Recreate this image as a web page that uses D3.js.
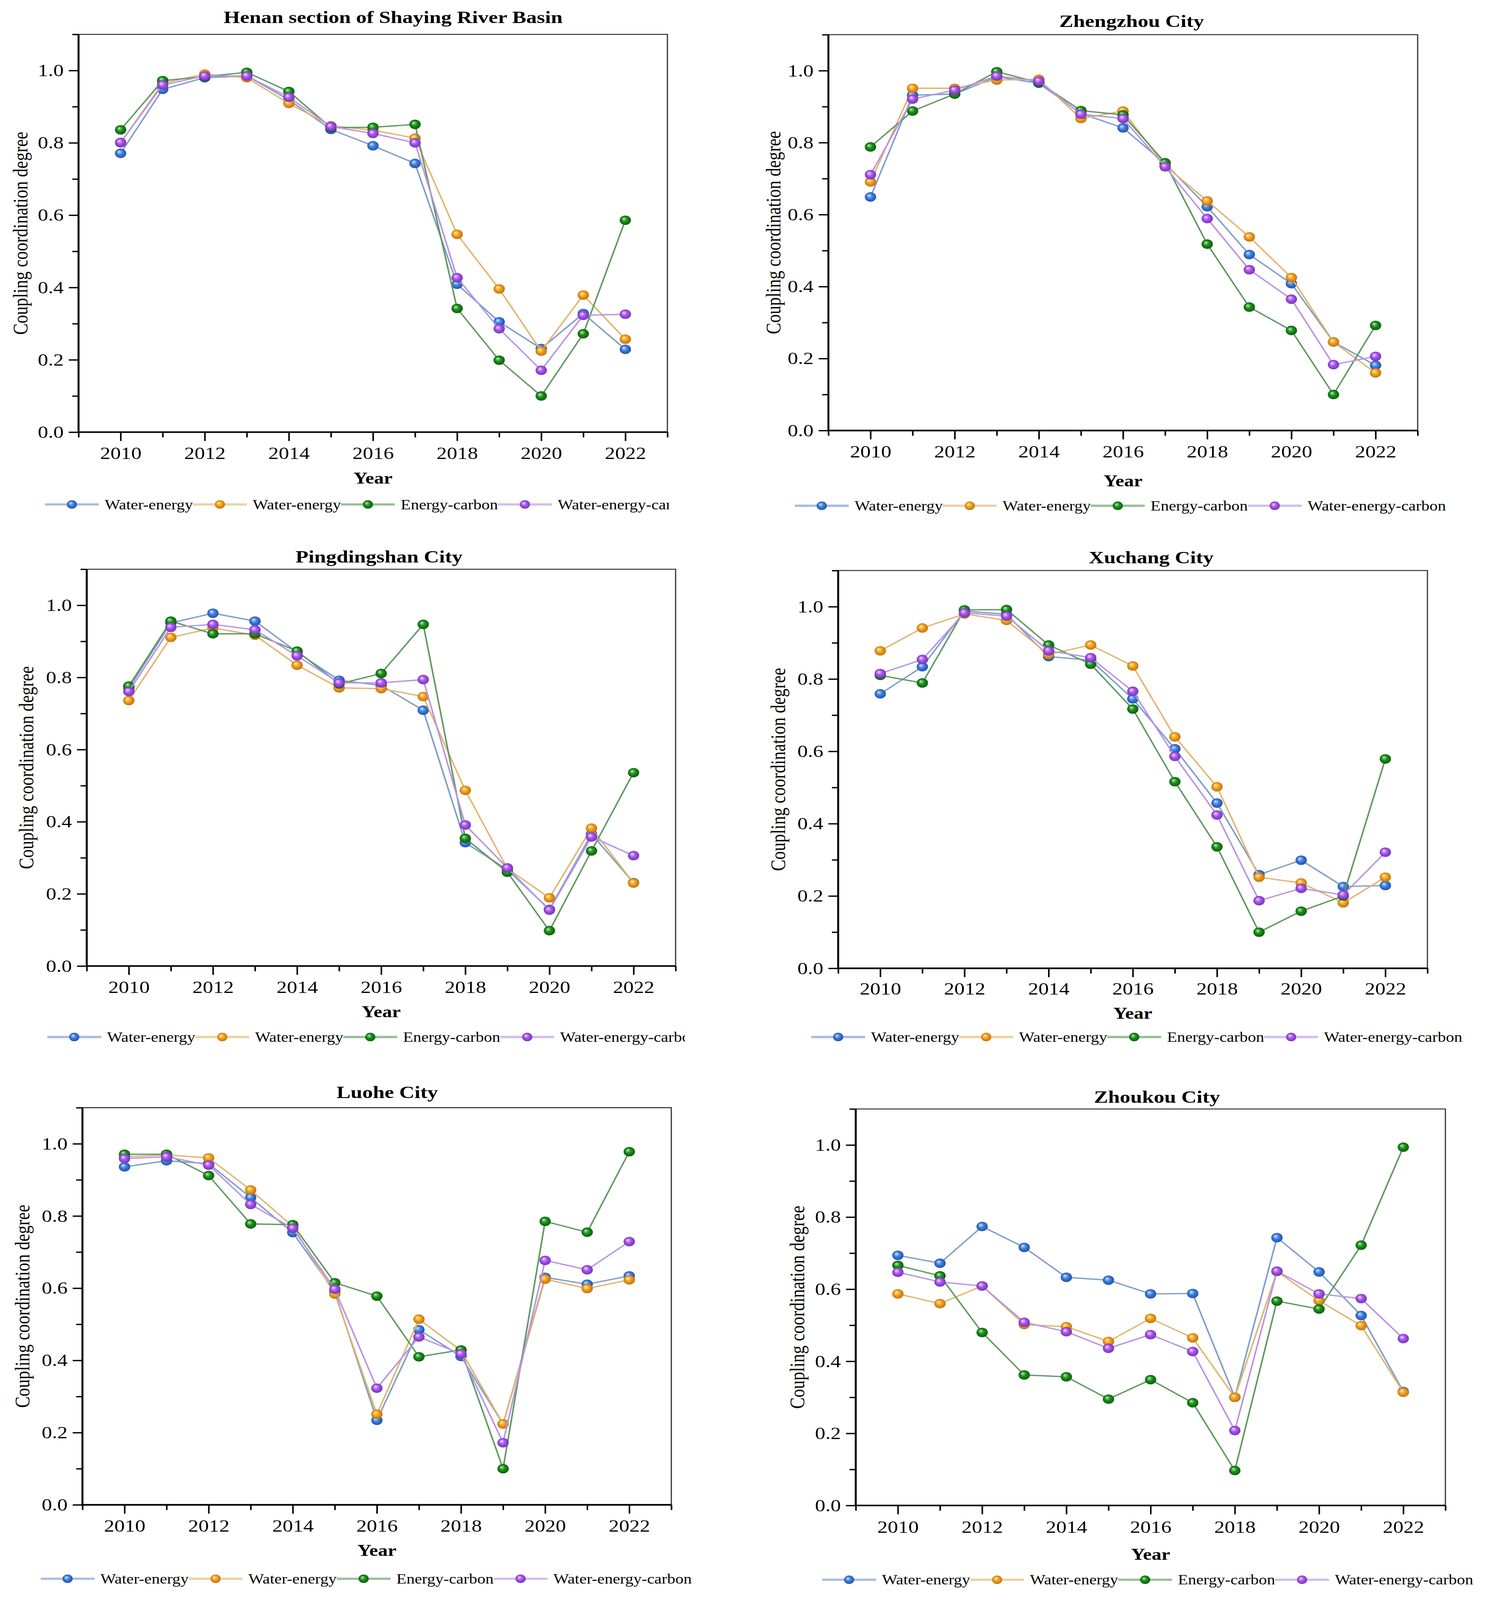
<!DOCTYPE html>
<html><head><meta charset="utf-8">
<script src="https://cdn.jsdelivr.net/npm/d3@7/dist/d3.min.js"></script>
<style>
html,body{margin:0;padding:0;background:#fff;overflow:hidden}
svg{display:block;background:#fff}
text{font-family:"Liberation Serif","Times New Roman",serif;fill:#000}
</style>
</head><body>
<svg id="chart"></svg>
<script>
// ---------------- DATA ----------------
const years = [2010,2011,2012,2013,2014,2015,2016,2017,2018,2019,2020,2021,2022];
const xTicks = [2010,2012,2014,2016,2018,2020,2022];
const xMinorTicks = [2009,2011,2013,2015,2017,2019,2021,2023];
const yTicks = [0,0.2,0.4,0.6,0.8,1.0];
const yMinorTicks = [0.1,0.3,0.5,0.7,0.9,1.1];
const seriesNames = ["Water-energy","Water-energy","Energy-carbon","Water-energy-carbon"];
const panelTitles = ["Henan section of Shaying River Basin","Zhengzhou City","Pingdingshan City","Xuchang City","Luohe City","Zhoukou City"];

const henanWE   = [0.771,0.948,0.980,0.985,0.919,0.837,0.792,0.743,0.409,0.305,0.231,0.328,0.229];
const henanWE2  = [0.800,0.965,0.990,0.980,0.909,0.847,0.835,0.813,0.547,0.396,0.224,0.379,0.257];
const henanEC   = [0.836,0.972,0.983,0.995,0.942,0.842,0.843,0.851,0.342,0.199,0.100,0.272,0.586];
const henanWEC  = [0.801,0.960,0.985,0.985,0.926,0.845,0.826,0.800,0.427,0.286,0.171,0.323,0.326];

const zhengzhouWE  = [0.649,0.932,0.935,0.983,0.965,0.881,0.841,0.742,0.622,0.489,0.408,0.246,0.181];
const zhengzhouWE2 = [0.691,0.951,0.951,0.974,0.976,0.867,0.888,0.736,0.638,0.538,0.425,0.246,0.160];
const zhengzhouEC  = [0.788,0.888,0.935,0.997,0.967,0.889,0.877,0.744,0.518,0.343,0.278,0.100,0.292];
const zhengzhouWEC = [0.711,0.921,0.946,0.985,0.971,0.879,0.867,0.733,0.589,0.447,0.365,0.183,0.206];

const pingdingshanWE  = [0.770,0.951,0.978,0.956,0.870,0.792,0.778,0.709,0.342,0.267,0.157,0.366,0.231];
const pingdingshanWE2 = [0.736,0.911,0.937,0.917,0.834,0.771,0.769,0.747,0.487,0.270,0.189,0.382,0.230];
const pingdingshanEC  = [0.776,0.956,0.921,0.921,0.873,0.782,0.811,0.947,0.354,0.260,0.098,0.319,0.536];
const pingdingshanWEC = [0.761,0.939,0.947,0.932,0.860,0.785,0.785,0.794,0.391,0.272,0.155,0.358,0.306];

const xuchangWE  = [0.759,0.834,0.988,0.979,0.862,0.852,0.745,0.607,0.457,0.259,0.299,0.226,0.229];
const xuchangWE2 = [0.878,0.941,0.980,0.962,0.868,0.894,0.836,0.640,0.502,0.252,0.236,0.181,0.252];
const xuchangEC  = [0.810,0.789,0.991,0.992,0.894,0.841,0.717,0.516,0.336,0.100,0.158,0.200,0.579];
const xuchangWEC = [0.815,0.854,0.983,0.974,0.878,0.859,0.766,0.586,0.424,0.187,0.221,0.203,0.321];

const luoheWE  = [0.936,0.953,0.945,0.851,0.754,0.590,0.234,0.485,0.411,0.224,0.630,0.611,0.634];
const luoheWE2 = [0.964,0.969,0.961,0.872,0.771,0.584,0.251,0.514,0.427,0.224,0.625,0.599,0.623];
const luoheEC  = [0.971,0.971,0.912,0.778,0.776,0.615,0.578,0.410,0.429,0.100,0.785,0.755,0.978];
const luoheWEC = [0.959,0.964,0.941,0.832,0.766,0.597,0.323,0.465,0.418,0.172,0.677,0.651,0.729];

const zhoukouWE  = [0.694,0.672,0.774,0.716,0.633,0.625,0.587,0.588,0.300,0.743,0.648,0.527,0.316];
const zhoukouWE2 = [0.587,0.560,0.609,0.502,0.496,0.455,0.519,0.465,0.300,0.649,0.568,0.499,0.314];
const zhoukouEC  = [0.666,0.637,0.480,0.362,0.357,0.295,0.349,0.285,0.097,0.567,0.545,0.722,0.994];
const zhoukouWEC = [0.647,0.620,0.609,0.508,0.482,0.436,0.474,0.427,0.208,0.650,0.587,0.574,0.463];

const panelSeries = [
  [henanWE, henanWE2, henanEC, henanWEC],
  [zhengzhouWE, zhengzhouWE2, zhengzhouEC, zhengzhouWEC],
  [pingdingshanWE, pingdingshanWE2, pingdingshanEC, pingdingshanWEC],
  [xuchangWE, xuchangWE2, xuchangEC, xuchangWEC],
  [luoheWE, luoheWE2, luoheEC, luoheWEC],
  [zhoukouWE, zhoukouWE2, zhoukouEC, zhoukouWEC]
];

// ---------------- LAYOUT / STYLE ----------------
const W = 3808, H = 4891;
const layout = [
  {x0:201,  x1:1708, yTop:105,  yBot:1321, titleX:1006, titleY:51,   tickY:1385, yearY:1461, legY:1542, ylabX:52,   legX:115,  clip:1712},
  {x0:2120, x1:3628, yTop:106,  yBot:1316, titleX:2896, titleY:63,   tickY:1380, yearY:1469, legY:1546, ylabX:1979, legX:2034, clip:null},
  {x0:222,  x1:1729, yTop:1740, yBot:2953, titleX:970,  titleY:1701, tickY:3017, yearY:3092, legY:3170, ylabX:67,   legX:121,  clip:1753},
  {x0:2145, x1:3653, yTop:1744, yBot:2960, titleX:2946, titleY:1703, tickY:3022, yearY:3097, legY:3170, ylabX:1991, legX:2076, clip:null},
  {x0:211,  x1:1718, yTop:3386, yBot:4600, titleX:991,  titleY:3338, tickY:4663, yearY:4738, legY:4826, ylabX:57,   legX:104,  clip:null},
  {x0:2190, x1:3699, yTop:3390, yBot:4602, titleX:2961, titleY:3352, tickY:4667, yearY:4750, legY:4829, ylabX:2040, legX:2104, clip:null}
];

const markerColors = [
  {hi:"#d6e8ff", base:"#3f80e0", dark:"#1d4c9c"},
  {hi:"#fff0c0", base:"#f5a21e", dark:"#b86c0a"},
  {hi:"#b9f2b0", base:"#1c8f1c", dark:"#0a560a"},
  {hi:"#f6dcff", base:"#a957ea", dark:"#6c2eb2"}
];
const lineColors = ["#7f9dcc","#e2b56e","#5f9a5f","#b894e6"];
const legLineColors = ["#a9bde0","#efd0a0","#98c098","#d2bdf0"];

const FS_TICK = 53, FS_LAB = 52, FS_TITLE = 54, FS_YEAR = 50, FS_LEG = 42;
const MR = 14.5;

// fit the whole figure into the actual viewport
const vw = window.innerWidth || W, vh = window.innerHeight || H;
const svg = d3.select("#chart")
  .attr("width", vw).attr("height", vh)
  .attr("viewBox", `0 0 ${W} ${H}`)
  .attr("preserveAspectRatio", "none");
svg.append("rect").attr("width",W).attr("height",H).attr("fill","#fff");
const defs = svg.append("defs");
markerColors.forEach((c,i)=>{
  const g = defs.append("radialGradient").attr("id","ball"+i)
    .attr("cx","50%").attr("cy","50%").attr("r","55%").attr("fx","35%").attr("fy","32%");
  g.append("stop").attr("offset","0%").attr("stop-color",c.hi);
  g.append("stop").attr("offset","45%").attr("stop-color",c.base);
  g.append("stop").attr("offset","100%").attr("stop-color",c.dark);
});

layout.forEach((L,pi)=>{
  const g = svg.append("g");
  const x = d3.scaleLinear().domain([2009,2023]).range([L.x0,L.x1]);
  const y = d3.scaleLinear().domain([0,1.1]).range([L.yBot,L.yTop]);

  g.append("path")
    .attr("d",`M${L.x0},${L.yTop}H${L.x1}V${L.yBot}`)
    .attr("fill","none").attr("stroke","#333").attr("stroke-width",3);

  const majT = 27, minT = 16;
  const xPad = (L.tickY + 0.35*FS_TICK) - L.yBot - majT - 0.71*FS_TICK;
  const xa = g.append("g").attr("transform",`translate(0,${L.yBot})`)
    .call(d3.axisBottom(x).tickValues(xTicks).tickSize(majT).tickPadding(xPad).tickFormat(d3.format("d")));
  xa.select(".domain").remove();
  xa.selectAll("line").attr("stroke","#000").attr("stroke-width",4);
  xa.selectAll("text").style("font-size",FS_TICK+"px").style("font-family",'"Liberation Serif","Times New Roman",serif');
  const xm = g.append("g").attr("transform",`translate(0,${L.yBot})`)
    .call(d3.axisBottom(x).tickValues(xMinorTicks).tickSize(minT).tickFormat(""));
  xm.select(".domain").remove();
  xm.selectAll("line").attr("stroke","#000").attr("stroke-width",4);

  const ya = g.append("g").attr("transform",`translate(${L.x0},0)`)
    .call(d3.axisLeft(y).tickValues(yTicks).tickSize(25).tickPadding(13).tickFormat(d3.format(".1f")));
  ya.select(".domain").remove();
  ya.selectAll("line").attr("stroke","#000").attr("stroke-width",4);
  ya.selectAll("text").style("font-size",FS_TICK+"px").style("font-family",'"Liberation Serif","Times New Roman",serif');
  const ym = g.append("g").attr("transform",`translate(${L.x0},0)`)
    .call(d3.axisLeft(y).tickValues(yMinorTicks).tickSize(minT).tickFormat(""));
  ym.select(".domain").remove();
  ym.selectAll("line").attr("stroke","#000").attr("stroke-width",4);

  g.append("path").attr("d",`M${L.x0},${L.yTop}V${L.yBot}H${L.x1}`)
    .attr("fill","none").attr("stroke","#000").attr("stroke-width",5);

  g.append("text").attr("x",L.titleX).attr("y",L.titleY).attr("dy","0.35em")
    .attr("text-anchor","middle").style("font-size",FS_TITLE+"px").style("font-weight","bold")
    .text(panelTitles[pi]);
  g.append("text").attr("x",(L.x0+L.x1)/2).attr("y",L.yearY).attr("dy","0.35em")
    .attr("text-anchor","middle").style("font-size",FS_YEAR+"px").style("font-weight","bold")
    .text("Year");
  g.append("text").attr("transform",`translate(${L.ylabX},${(L.yTop+L.yBot)/2}) rotate(-90)`)
    .attr("dy","0.35em").attr("text-anchor","middle").style("font-size",FS_LAB+"px")
    .text("Coupling coordination degree");

  const line = d3.line().x((d,i)=>x(years[i])).y(d=>y(d));
  panelSeries[pi].forEach((vals,si)=>{
    g.append("path").datum(vals).attr("d",line)
      .attr("fill","none").attr("stroke",lineColors[si]).attr("stroke-width",4);
    g.selectAll(null).data(vals).enter().append("circle")
      .attr("cx",(d,i)=>x(years[i])).attr("cy",d=>y(d)).attr("r",MR)
      .attr("fill",`url(#ball${si})`);
  });

  let lg = g.append("g");
  if (L.clip) {
    defs.append("clipPath").attr("id","clip"+pi).append("rect")
      .attr("x",L.legX-50).attr("y",L.legY-60).attr("width",L.clip-(L.legX-50)).attr("height",120);
    lg.attr("clip-path",`url(#clip${pi})`);
  }
  let cx = L.legX;
  const segLen = 138, gap = 15;
  seriesNames.forEach((name,si)=>{
    lg.append("line").attr("x1",cx).attr("x2",cx+segLen).attr("y1",L.legY).attr("y2",L.legY)
      .attr("stroke",legLineColors[si]).attr("stroke-width",7);
    lg.append("circle").attr("cx",cx+segLen/2).attr("cy",L.legY).attr("r",MR-1.5)
      .attr("fill",`url(#ball${si})`);
    const t = lg.append("text").attr("x",cx+segLen+gap).attr("y",L.legY).attr("dy","0.35em")
      .style("font-size",FS_LEG+"px").text(name);
    const w = t.node().getComputedTextLength();
    cx = cx + segLen + gap + w;
  });
});
</script>
</body></html>
